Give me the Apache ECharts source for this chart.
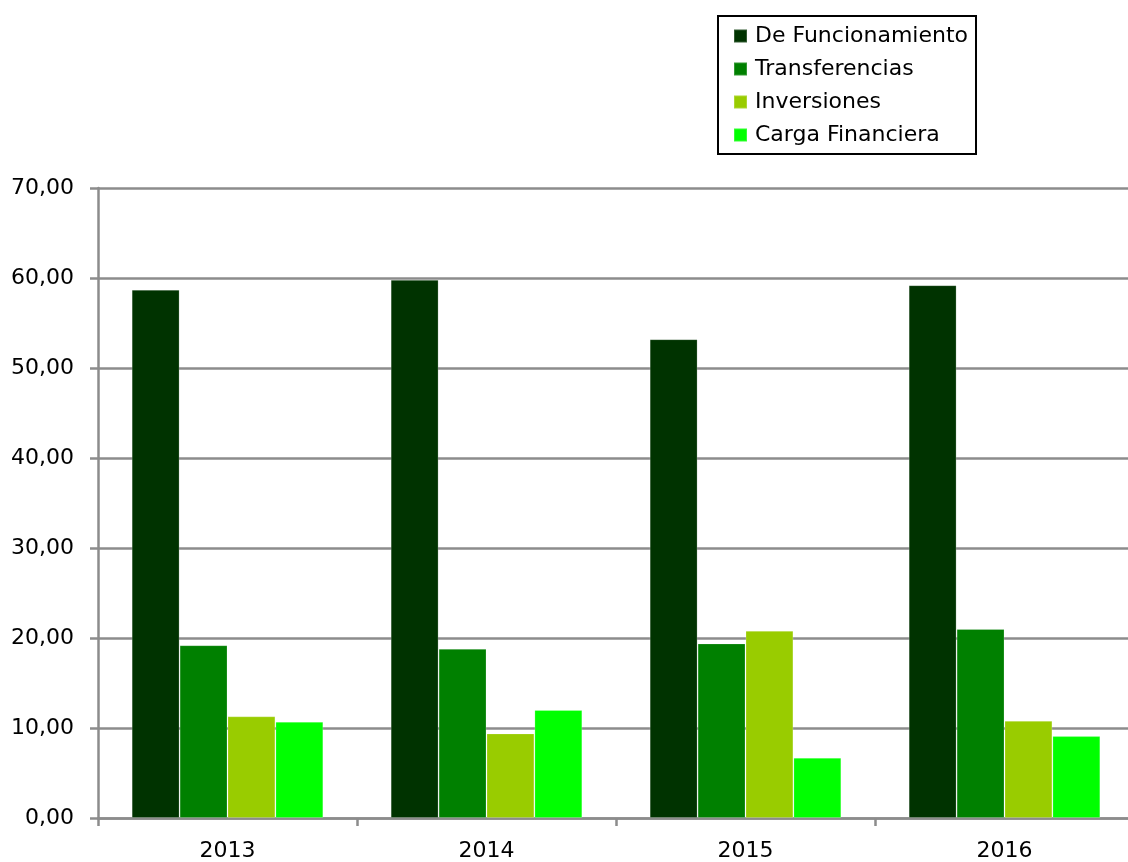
<!DOCTYPE html>
<html>
<head>
<meta charset="utf-8">
<script src="https://cdn.jsdelivr.net/npm/echarts@6/dist/echarts.min.js"></script>
<style>
  html, body { margin: 0; padding: 0; background: #fff; overflow: hidden; }
  #chart { width: 1134px; height: 862px; }
</style>
</head>
<body>
<div id="chart"></div>
<script>
const years = ["2013", "2014", "2015", "2016"];
const funcionamiento = [58.7, 59.8, 53.2, 59.2];
const transferencias = [19.2, 18.8, 19.4, 21.0];
const inversiones = [11.3, 9.4, 20.8, 10.8];
const cargaFinanciera = [10.7, 12.0, 6.7, 9.1];

const seriesNames = ["De Funcionamiento", "Transferencias", "Inversiones", "Carga Financiera"];
const seriesColors = ["#003300", "#008000", "#99cc00", "#00ff00"];
const seriesData = [funcionamiento, transferencias, inversiones, cargaFinanciera];

const chart = echarts.init(document.getElementById("chart"));
const axisGray = "#8c8c8c";

const option = {
  animation: false,
  textStyle: { fontFamily: "DejaVu Sans", color: "#000" },
  grid: { left: 98, top: 188, bottom: 44, right: 0 },
  legend: {
    orient: "vertical",
    left: 718,
    top: 16,
    padding: [9, 8, 8, 15],
    itemGap: 11,
    itemWidth: 13,
    itemHeight: 13,
    borderColor: "#000",
    borderWidth: 2,
    icon: "rect",
    textStyle: { fontSize: 22, color: "#000", padding: [0, 0, 0, 3] },
    data: seriesNames,
  },
  xAxis: {
    type: "category",
    data: years,
    axisLine: { lineStyle: { color: axisGray, width: 2.5 } },
    axisTick: { show: true, length: 8, lineStyle: { color: axisGray, width: 2.5 } },
    axisLabel: { fontSize: 22, color: "#000", margin: 22 },
  },
  yAxis: {
    type: "value",
    min: 0,
    max: 70,
    interval: 10,
    axisLine: { show: true, lineStyle: { color: axisGray, width: 2.5 } },
    axisTick: { show: true, length: 8, lineStyle: { color: axisGray, width: 2.5 } },
    splitLine: { show: true, lineStyle: { color: axisGray, width: 2.5 } },
    axisLabel: {
      fontSize: 22,
      color: "#000",
      margin: 24,
      formatter: (v) => v.toFixed(2).replace(".", ","),
    },
  },
  series: seriesNames.map((name, i) => ({
    name: name,
    type: "bar",
    data: seriesData[i],
    barGap: "0%",
    barCategoryGap: "26%",
    itemStyle: { color: seriesColors[i], borderColor: "rgba(255,255,255,0.2)", borderWidth: 1 },
  })),
};

chart.setOption(option);
</script>
</body>
</html>
